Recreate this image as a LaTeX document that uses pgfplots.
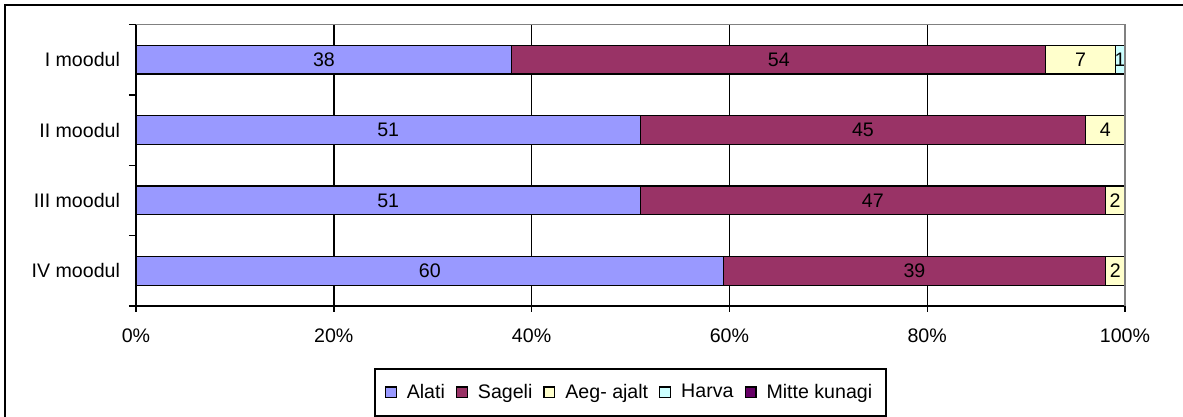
\documentclass[border=0pt]{standalone}
\usepackage{pgfplots}
\pgfplotsset{compat=1.18}
\usepackage{pgfplotstable}
\usepackage{fontspec}
\setmainfont{Liberation Sans}

\definecolor{alati}{HTML}{9999FF}
\definecolor{sageli}{HTML}{993366}
\definecolor{aeg}{HTML}{FFFFCC}
\definecolor{harva}{HTML}{CCFFFF}
\definecolor{mitte}{HTML}{660066}

% y: 4 = I moodul ... 1 = IV moodul; p = share in %, l = printed value
\pgfplotstableread{
y p l
4 38 38
3 51 51
2 51 51
1 59.41 60
}\alati
\pgfplotstableread{
y p l
4 54 54
3 45 45
2 47 47
1 38.61 39
}\sageli
\pgfplotstableread{
y p l
4 7 7
3 4 4
2 2 2
1 1.98 2
}\aeg
\pgfplotstableread{
y p l
4 1 1
}\harva

\pgfplotsset{
  seg/.style={draw=black, line width=0.6pt,
    point meta=explicit symbolic, nodes near coords={\pgfplotspointmeta},
    every node near coord/.append style={anchor=center, text=black, inner sep=0pt}},
}

\begin{document}
\begin{tikzpicture}
\begin{axis}[
  name=ax,
  width=494.5pt, height=140.75pt, scale only axis,
  font=\fontsize{9.8}{11.5}\selectfont,
  xbar stacked, bar width=14.35pt,
  xmin=0, xmax=100, ymin=0.5, ymax=4.5,
  axis x line*=bottom, axis y line*=left,
  axis line style={black, line width=0.7pt},
  tick align=outside,
  xtick={0,20,...,100},
  xticklabels={0\%,20\%,40\%,60\%,80\%,100\%},
  extra x ticks={20,40,60,80}, extra x tick labels={},
  extra x tick style={grid=major, major tick length=0pt},
  major grid style={black, line width=0.7pt},
  major tick length=3pt,
  x tick style={black, line width=0.7pt},
  ytick={1,2,3,4},
  yticklabels={IV moodul, III moodul, II moodul, I moodul},
  minor ytick={0.5,1.5,2.5,3.5,4.5},
  major y tick style={draw=none},
  minor y tick style={black, line width=0.7pt},
  minor tick length=3.5pt,
  xticklabel style={yshift=-5pt},
  yticklabel style={xshift=-1.5pt},
  legend style={at={(0.5,-0.307)}, anchor=center, legend columns=-1,
    draw=black, line width=0.7pt, inner xsep=5pt, inner ysep=5.5pt,
    /tikz/every odd column/.append style={column sep=3pt},
    /tikz/every even column/.append style={column sep=3.5pt}},
  legend image code/.code={\draw[#1, draw=black, line width=0.6pt] (0pt,-2.7pt) rectangle (5.4pt,2.7pt);},
]
\addplot[seg, fill=alati] table[x=p, y=y, meta=l]{\alati};
\addplot[seg, fill=sageli] table[x=p, y=y, meta=l]{\sageli};
\addplot[seg, fill=aeg] table[x=p, y=y, meta=l]{\aeg};
\addplot[seg, fill=harva] table[x=p, y=y, meta=l]{\harva};
\addlegendimage{fill=mitte}
\legend{Alati, Sageli, Aeg- ajalt, Harva, Mitte kunagi}
\end{axis}
\draw[gray, line width=0.8pt] (ax.north west) -- (ax.north east) -- (ax.south east);
\draw[line width=1pt] ([shift={(-65.5pt,-80pt)}]ax.south west) -- ([shift={(-65.5pt,9.6pt)}]ax.north west) -- ([shift={(40pt,9.6pt)}]ax.north east);
\pgfresetboundingbox
\path[use as bounding box] ([shift={(-68pt,-55.5pt)}]ax.south west) rectangle ([shift={(29pt,12.25pt)}]ax.north east);
\end{tikzpicture}
\end{document}
